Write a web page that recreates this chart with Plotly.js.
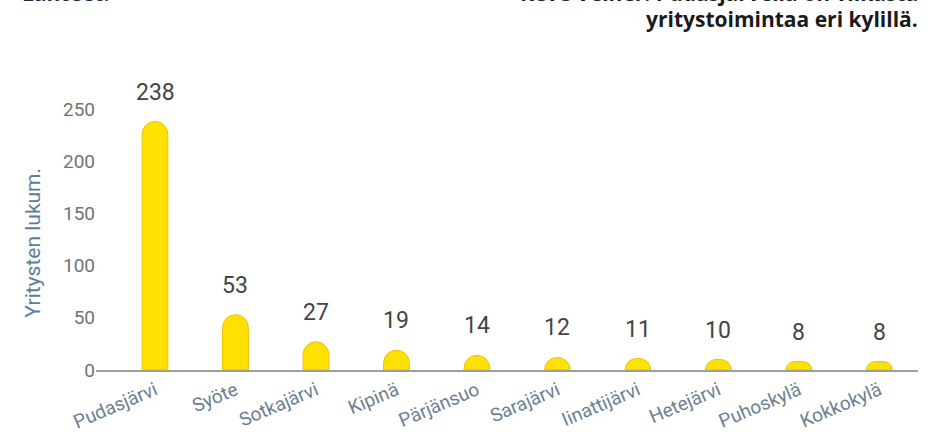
<!DOCTYPE html>
<html>
<head>
<meta charset="utf-8">
<script src="https://cdn.plot.ly/plotly-3.0.1.min.js"></script>
<style>html,body{margin:0;padding:0;background:#fff;}#chart{width:935px;height:446px;}</style>
</head>
<body>
<div id="chart"></div>
<script>
const categories = ["Pudasjärvi","Syöte","Sotkajärvi","Kipinä","Pärjänsuo","Sarajärvi","Iinattijärvi","Hetejärvi","Puhoskylä","Kokkokylä"];
const values = [238, 53, 27, 19, 14, 12, 11, 10, 8, 8];
const yTicks = [0, 50, 100, 150, 200, 250];
const yTitle = "Yritysten lukum.";
const headLeft = "Lähteet:";
const headRight1 = "Keve Veiner: Pudasjärvellä on vilkasta";
const headRight2 = "yritystoimintaa eri kylillä.";

const trace = {
  type: "bar",
  x: categories,
  y: values,
  width: 0.32,
  marker: {color: "#FFE100", line: {color: "#E6C600", width: 1}, cornerradius: "50%"},
  hoverinfo: "none"
};

const labelAnns = categories.map((c, i) => ({
  x: c, y: values[i], xref: "x", yref: "y",
  text: String(values[i]), showarrow: false,
  yanchor: "bottom", yshift: 14,
  font: {family: "Roboto, Arial, sans-serif", size: 23, color: "#444444"}
}));

const otherAnns = [
  {xref: "paper", yref: "paper", x: -0.076, y: 0.442, xanchor: "center", yanchor: "middle",
   text: yTitle, textangle: -90, showarrow: false,
   font: {family: "Roboto, Arial, sans-serif", size: 21, color: "#5d7c98"}},
  {xref: "paper", yref: "paper", x: 1.003, y: 1.168, xanchor: "right", yanchor: "bottom",
   text: "<b>" + headRight2 + "</b>", showarrow: false,
   font: {family: "Open Sans, sans-serif", size: 21, color: "#1a1a1a"}},
  {xref: "paper", yref: "paper", x: 1.003, y: 1.258, xanchor: "right", yanchor: "bottom",
   text: "<b>" + headRight1 + "</b>", showarrow: false,
   font: {family: "Open Sans, sans-serif", size: 21, color: "#1a1a1a"}},
  {xref: "paper", yref: "paper", x: -0.093, y: 1.258, xanchor: "left", yanchor: "bottom",
   text: "<b>" + headLeft + "</b>", showarrow: false,
   font: {family: "Open Sans, sans-serif", size: 21, color: "#1a2a3a"}}
];

const layout = {
  width: 935, height: 446,
  margin: {l: 96, r: 17, t: 83, b: 76, pad: 0},
  paper_bgcolor: "#ffffff", plot_bgcolor: "#ffffff",
  showlegend: false,
  xaxis: {
    type: "category", range: [-0.733, 9.48],
    showline: true, linecolor: "#9e9e9e", linewidth: 2,
    ticks: "", tickangle: -23, showgrid: false, zeroline: false,
    tickfont: {family: "Roboto, Arial, sans-serif", size: 19, color: "#6b7f93"}
  },
  yaxis: {
    range: [0, 274.9], tickvals: yTicks, ticktext: yTicks.map(String),
    showgrid: false, zeroline: false, showline: false, ticks: "",
    tickfont: {family: "Roboto, Arial, sans-serif", size: 19, color: "#727272"}
  },
  annotations: labelAnns.concat(otherAnns)
};

Plotly.newPlot("chart", [trace], layout, {displayModeBar: false, staticPlot: true});
</script>
</body>
</html>
